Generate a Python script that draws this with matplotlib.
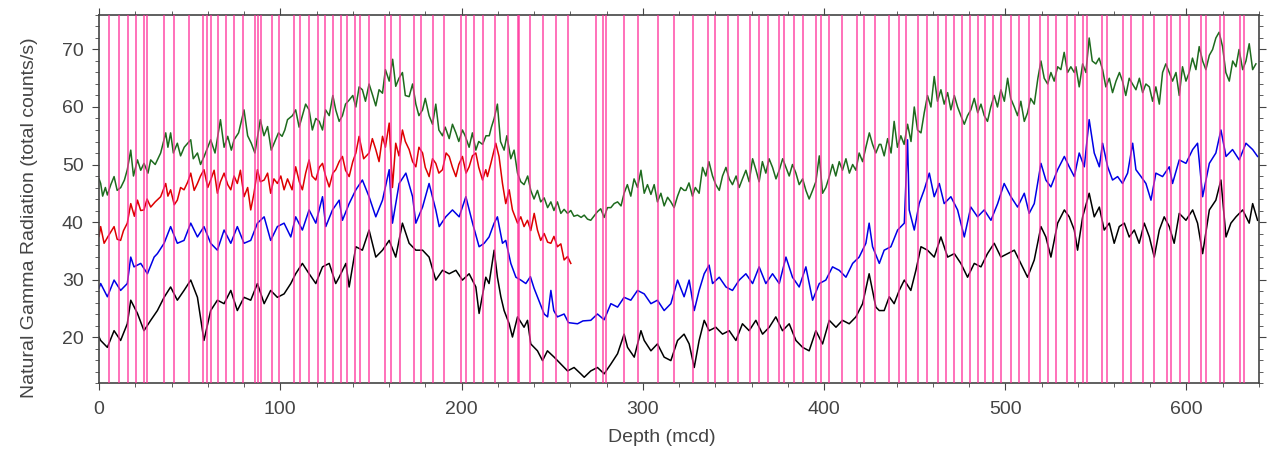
import matplotlib
matplotlib.use("Agg")
import matplotlib.pyplot as plt
from matplotlib.ticker import MultipleLocator

plt.rcParams['font.family'] = ['Liberation Sans', 'DejaVu Sans']

# Depth (mcd) and natural gamma radiation (total counts/s)
green_depth = [0.0, 0.9, 2.0, 3.5, 4.6, 6.5, 8.3, 10, 12, 14, 15.6, 17.5, 19, 21.2, 23, 24.8, 27, 28.5, 31, 34,
               36.8, 38, 39.5, 41, 43.2, 45, 47, 50.6, 52, 54.3, 56, 58, 60, 61.6, 64, 67, 69, 71, 73, 74.5,
               77, 80, 82, 84, 86, 89, 91, 93, 95, 96.6, 99, 101, 102.5, 104, 106.7, 108.5, 110.4, 112.2, 114, 115.9,
               117.7, 119.6, 121.5, 123.3, 125, 127, 129, 130.6, 132.5, 134.3, 136, 138, 140, 141.7, 143.5, 145.3, 147, 149, 151, 152.7,
               154.5, 156.4, 158, 160.1, 162, 163.7, 165.5, 167.4, 169, 171.1, 173, 174.8, 176.5, 178.5, 180, 182.1, 184, 185.8, 187.5, 189.5,
               191, 193.2, 195, 196.9, 198.5, 200.5, 202, 204.2, 206, 207.9, 209.5, 211.6, 213.5, 215.3, 216.5, 218, 219.8, 221.5, 223.5, 225,
               227.2, 229, 230.9, 232.7, 234.5, 236.5, 238.2, 240, 241.9, 243.7, 245.6, 247.5, 249.3, 251, 252.9, 254.8, 256.6, 258.5, 260.3, 262,
               264, 266, 267.7, 269.5, 271.3, 273, 275, 276.8, 278.7, 280.5, 282.4, 284.2, 286.1, 288, 289.7, 291.5, 293.4, 295.2, 297.1, 299,
               300.8, 302.6, 304.5, 306.3, 308.1, 310, 311.8, 313.7, 315.5, 317.3, 319.2, 321, 322.8, 323.8, 325.5, 327.4, 329, 331.1, 333, 334.8,
               336.5, 338.5, 340.3, 342.2, 344, 345.9, 347.7, 349.5, 351.5, 353.2, 355, 356.9, 358.7, 360.6, 362.5, 364.2, 366, 367.9, 369.7, 371.6,
               373.5, 375.3, 377.2, 379, 380.8, 382.6, 384.5, 386.3, 388.2, 390, 391.8, 393.7, 395.5, 397.4, 399.2, 401, 403, 404.7, 406.5, 408.4,
               410.2, 412.1, 414, 415.8, 417.6, 419.4, 421.3, 423.1, 425, 426.8, 428.6, 430.5, 431.4, 433.2, 435.1, 437, 438.7, 440.5, 442.4, 444.2,
               446.1, 448, 449.8, 451.6, 453.5, 455.3, 457.1, 459, 460.8, 462.6, 464.5, 466.3, 468.2, 470, 471.9, 473.7, 475.5, 477.4, 479.2, 481,
               482.9, 484.8, 486.6, 488.4, 490.2, 492, 493.9, 495.7, 497.6, 499.5, 501.3, 503, 505, 506.8, 508.6, 510.5, 512.3, 514, 516, 518,
               519.7, 521.5, 523.4, 525.2, 527, 528.9, 530.7, 532.5, 534.4, 536.2, 538.1, 539, 540.8, 542.7, 544.5, 546.3, 548, 550, 551.8, 553.7,
               555.5, 557.4, 559.2, 561.1, 563, 564.7, 566.5, 568.4, 570.2, 572.1, 574, 575.8, 577.6, 579.5, 581.3, 583.1, 585, 586.8, 588.6, 590.5,
               592.3, 594.2, 596, 597.8, 599.7, 601.5, 603.3, 605.2, 607, 608.9, 610.7, 612.6, 614.4, 616.2, 618, 619.9, 621.7, 623.6, 625.5, 627.3,
               629, 631, 632.8, 634.6, 636.5, 638.3]
green_gr = [47.5, 46.7, 44.5, 46, 44.7, 46.5, 47.9, 45.5, 46, 47.3, 49.1, 52.5, 48, 50.8, 49, 50.2, 48.5, 50.8, 50, 52,
            55.5, 53, 55.5, 52, 53.7, 51.5, 53, 54.3, 51, 52, 50, 51.4, 53, 54.3, 52, 57.8, 53, 54.9, 52.5, 54.3,
            55.5, 59.5, 55, 53.7, 52, 57.8, 55, 56.6, 52.5, 53.7, 55.5, 54.9, 56, 57.8, 58.5, 59.5, 56.5, 58.5, 60.5, 59.5,
            56, 58.0, 57.5, 56.0, 59.5, 58.5, 62, 59.5, 57.5, 58.5, 60.5, 61.2, 62, 60.0, 63.5, 63.0, 61, 64.0, 62, 60.2,
            63, 62.4, 66.5, 64.5, 68.3, 63.6, 65, 66.0, 62, 61.8, 64, 60.5, 58.5, 59.5, 61.5, 58.5, 57, 60.5, 56, 55.0,
            56.5, 54.5, 57, 55.5, 54, 56.0, 55, 53, 55.5, 52.5, 54, 53.5, 55, 55, 56.5, 58, 60.5, 54, 52.5, 55,
            51, 52.5, 48.5, 47, 46.5, 48, 45.5, 44, 45.5, 43.5, 44.2, 42.5, 43.5, 42, 43.5, 41.5, 42.2, 41.5, 42, 41,
            41.2, 40.8, 41.2, 40.5, 40.3, 41, 41.8, 42.3, 40.8, 42.5, 42.5, 43.2, 43.5, 42.8, 45, 46.5, 44.5, 47.5, 46, 49,
            45, 46.5, 44.8, 46.5, 43.5, 45, 42.8, 44.3, 43.5, 42.5, 44.5, 46, 45.5, 45.5, 46.8, 44.5, 46, 45, 49.5, 48,
            50.5, 48, 46.5, 45.5, 48, 49.5, 47.5, 46.5, 48, 46, 47.5, 49, 47, 51, 49, 47, 50.5, 48.5, 51, 49.5,
            47.5, 49, 51, 49.5, 48, 50, 48.5, 46.5, 47.5, 45.5, 44, 45.5, 47, 51.5, 45, 46, 48, 50, 48, 50.5,
            49, 51, 48.5, 50, 49, 52, 50.5, 53, 55.5, 53.5, 52, 53.5, 53.5, 51.5, 54.5, 52, 57.5, 53, 55, 53.5,
            57, 54, 60, 56, 55.5, 59, 62, 60, 65.3, 61, 63, 60.5, 62.5, 59.5, 62, 60, 58.5, 57, 58.5, 59.5,
            61.5, 59, 60.5, 58.5, 57.5, 60, 62, 60, 63, 61, 65, 61.5, 60, 58.5, 61, 57.5, 59, 61.5, 60.5, 65,
            68, 65, 64, 66, 64.5, 67, 66.5, 69.5, 66, 67, 66, 67, 63.5, 67.5, 66, 72, 68, 67.5, 68.5, 66.5,
            63.5, 65, 62.5, 64.5, 66, 64.5, 62, 65, 64, 63, 65, 62.5, 64, 63.5, 61, 63.5, 60.5, 66, 67.5, 66,
            64.5, 66, 62, 67, 64.5, 66, 68.5, 66.5, 70.5, 68, 66.5, 69, 70, 72, 73, 70.5, 66, 64.5, 68, 67,
            70, 66.5, 68, 71, 66.5, 67.5]

red_depth = [0, 0.9, 2.8, 5, 8.3, 10, 11.9, 13.5, 15.6, 17.5, 19.5, 21.2, 23, 24.8, 26.5, 28.5, 31, 34.0, 36.8, 38,
             39.5, 41.5, 43.2, 45, 46.9, 49, 50.6, 52.5, 54.3, 56, 57.9, 60, 61.6, 63.5, 65.3, 67, 69.0, 71, 72.7, 74.5,
             76.3, 78, 80.0, 82, 83.7, 85.5, 87.4, 89, 91.1, 93, 94.7, 96.5, 98.4, 100.3, 102.1, 104, 106.5, 108.5, 110.5, 112.2,
             114, 115.9, 117.5, 119.6, 121.5, 123.3, 125, 127, 129, 130.6, 132.5, 134.3, 136, 138, 140, 141.7, 143.5, 146, 149, 150.8,
             152.7, 154.5, 156.4, 158, 160.1, 161.9, 163.7, 165.5, 167.4, 169, 171.1, 173, 174.8, 176.5, 178.5, 180, 182.1, 184, 185.8, 187.5,
             189.5, 191.5, 193.2, 195, 196.9, 198.5, 200.5, 202.5, 204.2, 206, 207.9, 209.5, 211.6, 213.4, 214.3, 216.2, 218.9, 220.7, 222.6, 224.4,
             226.3, 228.1, 230.9, 232.7, 234.5, 236.4, 238.2, 240.1, 241.9, 243.7, 245.6, 247.5, 249.3, 251, 252.9, 254.8, 256.6, 258.5, 260.3]
red_gr = [37.5, 39.2, 36.3, 37.5, 39.2, 37, 36.8, 38.5, 39.8, 43.2, 41, 43.8, 42, 42.1, 44, 42.6, 43.5, 44.4, 46.7, 44.5,
          45.6, 43, 43.8, 46, 45.6, 47, 48.5, 45.5, 46.7, 48, 49.1, 46, 47.3, 49, 45.0, 47, 48.5, 46.5, 45.6, 48,
          46.7, 49, 44.4, 46, 42.1, 45, 49.1, 47, 47.3, 48.5, 45.0, 47.5, 46.7, 48, 45.6, 47.5, 45.6, 49.6, 47, 45.6,
          48.5, 50.8, 48, 47.3, 49.5, 50.2, 48, 46.1, 48.5, 49.1, 50.5, 51.4, 49, 47.9, 50.5, 52.0, 54.9, 51, 52.0, 54.5,
          52.6, 50.5, 54.9, 53, 57.2, 46.0, 53.7, 51.5, 56.0, 54, 52.6, 50.5, 49.6, 53, 52.0, 49.5, 47.9, 51, 50.2, 48.5,
          49.1, 52, 51.4, 49.5, 47.9, 50, 51.4, 48.5, 49.6, 51.5, 52.0, 49.5, 47.3, 49.1, 47.9, 50.2, 53.7, 51.4, 46.7, 43.2,
          45.6, 42.1, 39.8, 40.9, 39.2, 40.3, 38.5, 41.5, 38.6, 36.8, 38, 36.5, 36.3, 37.5, 35.7, 36.2, 33.4, 34, 32.8]

blue_depth = [0, 0.9, 4.6, 8.3, 11.9, 15.6, 17.5, 19.3, 23.0, 26.7, 30.4, 32.2, 35.9, 39.5, 43.2, 46.9, 50.6, 54.3, 57.9, 61.6,
              65.3, 69.0, 72.7, 76.3, 80.0, 83.7, 87.4, 91.1, 94.7, 98.4, 102.1, 105.8, 108.5, 112.2, 115.9, 119.6, 123.3, 125.1, 128.8, 132.5,
              134.3, 138, 141.7, 145.3, 149, 152.7, 156.4, 160.1, 161.9, 165.6, 169.3, 173, 174.8, 178.5, 182.1, 185.8, 187.7, 191.3, 195, 198.7,
              202.4, 206.1, 209.7, 212.5, 215.2, 218, 219.8, 222.6, 224.4, 227.2, 230, 232.7, 235.5, 238, 240, 243.7, 245.6, 247.5, 249.3, 250.9,
              252.9, 256.6, 259, 264, 267, 271.3, 275, 278.7, 282.4, 286.1, 289.7, 293.4, 297.1, 300.8, 304.5, 308.1, 311.8, 315.5, 319.2, 322.8,
              325.6, 328.4, 331.1, 333.9, 336.6, 338.5, 342.2, 345.9, 349.5, 353.2, 356.9, 360.6, 364.2, 367.9, 371.6, 375.3, 379, 382.6, 386.3, 390,
              393.7, 397.4, 401, 404.7, 408.4, 412.1, 415.8, 419.4, 423.1, 424.9, 426.8, 430.5, 433.2, 436.9, 440.6, 444.3, 446.1, 447, 449.8, 452.5,
              455.3, 458.1, 460.8, 463.6, 466.3, 470, 473.7, 477.4, 481, 484.7, 488.4, 492.1, 495.8, 499.4, 503.1, 506.8, 510.5, 513.2, 516, 519.7,
              522.4, 525.2, 528.9, 532.6, 535.3, 538.1, 540.8, 543.6, 546.3, 549.1, 551.9, 553.7, 556.5, 559.2, 562, 564.7, 567.5, 570.3, 572.1, 574.9,
              577.6, 580.4, 583.1, 586.8, 590.5, 592.3, 596, 599.7, 603.4, 606.1, 608.9, 612.6, 616.2, 619, 621.8, 625.4, 629.1, 632.8, 636.5, 639.2]
blue_gr = [28.5, 29.3, 27.0, 29.9, 28.1, 29.3, 33.9, 32.2, 32.8, 31.0, 33.9, 34.5, 36.3, 39.2, 36.3, 36.8, 39.8, 37.4, 39.2, 36.3,
           35.1, 38.6, 36.3, 39.2, 36.3, 36.8, 39.8, 40.9, 36.8, 39.2, 39.8, 37.4, 40.9, 38.6, 42.1, 39.8, 44.4, 39.2, 42.1, 43.8,
           40.3, 43.2, 45.6, 47.3, 44.4, 40.9, 43.8, 49.1, 39.8, 46.7, 48.5, 44.4, 39.8, 42.6, 46.7, 42.1, 39.2, 40.9, 42.1, 40.9,
           44.4, 39.8, 35.7, 36.3, 37.4, 39.8, 40.9, 36.3, 36.8, 32.8, 30.4, 29.9, 29.3, 30.5, 28.5, 25.5, 24, 23.5, 28.1, 24.6,
           23.5, 24, 22.5, 22.3, 22.8, 22.9, 24, 23, 25.8, 25.2, 26.9, 26.4, 28.1, 27.5, 25.8, 26.4, 24.6, 25.8, 29.9, 27,
           29.9, 24.6, 28.1, 31.0, 32.5, 29.3, 30.4, 28.7, 28.1, 29.9, 31.0, 29.3, 32.2, 29.3, 31.0, 29.3, 33.9, 30.4, 28.7, 32.2,
           26.4, 29.3, 29.9, 32.2, 31.6, 30.4, 32.8, 33.9, 36.3, 39.8, 35.7, 32.8, 35.1, 35.7, 38.6, 39.8, 54.3, 42.1, 38.6, 43.2,
           45.6, 48.5, 44.4, 46.7, 43.2, 44.4, 42.1, 37.4, 42.6, 40.9, 42.1, 40.3, 43.2, 46.7, 44.4, 42.6, 45.0, 41.5, 43.2, 50.2,
           47.3, 46.1, 49.1, 51.4, 49.6, 47.9, 52.0, 49.6, 57.8, 52.0, 49.6, 53.7, 49.6, 47.3, 47.9, 46.7, 48.5, 53.7, 49.1, 47.9,
           46.7, 43.8, 48.5, 47.9, 49.6, 46.7, 50.8, 50.2, 52.6, 53.7, 44.4, 50.2, 52.0, 56.0, 51.4, 52.6, 50.8, 53.7, 52.6, 51.4]

black_depth = [0, 0.9, 4.6, 8.3, 11.9, 15.6, 17.5, 21.2, 24.8, 28.5, 32.2, 35.9, 39.5, 43.2, 46.9, 50.6, 54.3, 57.9, 61.6, 65.3,
               69.0, 72.7, 76.3, 80.0, 83.7, 87.4, 91.1, 94.7, 98.4, 102.1, 105.8, 108.5, 112.2, 115.9, 119.6, 123.3, 127, 130.6, 132.5, 136.2,
               138, 141.7, 145.3, 149, 152.7, 156.4, 160.1, 163.7, 167.4, 171.1, 174.8, 178.5, 182.1, 185.8, 189.5, 193.2, 196.9, 200.5, 204.2, 207.9,
               209.7, 213.4, 215.2, 218, 219.8, 221.7, 223.5, 226.3, 228.1, 230.9, 234.5, 236.4, 238.2, 241.9, 244.7, 247.4, 251.1, 254.8, 258.5, 262.1,
               265.8, 267.7, 271.3, 275, 278.7, 282.4, 286.1, 289.7, 291.6, 295.3, 299, 300.8, 304.5, 308.1, 311.8, 315.5, 319.2, 322.8, 325.6, 328.4,
               331.1, 333.9, 336.6, 340.3, 344, 347.7, 351.4, 355, 358.7, 362.4, 366.1, 369.8, 373.4, 377.1, 380.8, 384.5, 388.2, 391.8, 395.5, 399.2,
               402.9, 406.6, 410.2, 413.9, 417.6, 421.3, 424.9, 428.6, 430.5, 433.2, 436, 438.7, 441.5, 444.3, 447.9, 450.7, 453.5, 457.1, 460.8, 464.5,
               468.2, 471.9, 475.5, 479.2, 482.9, 486.6, 490.2, 493.9, 497.6, 501.3, 505, 508.6, 512.3, 516, 519.7, 522.4, 525.2, 528.9, 532.6, 535.3,
               538.1, 539.9, 542.7, 546.3, 549.1, 551.9, 554.6, 557.4, 560.1, 562.9, 565.7, 568.4, 571.2, 573.9, 576.7, 579.5, 582.2, 585, 587.7, 590.5,
               593.2, 596, 599.7, 603.4, 606.1, 608.9, 612.6, 616.2, 619, 621.8, 624.5, 627.3, 631, 634.6, 636.5, 639.2]
black_gr = [20.0, 19.4, 18.2, 21.1, 19.4, 22.3, 26.4, 24.1, 21.1, 22.9, 24.6, 26.9, 28.7, 26.4, 28.1, 29.9, 26.9, 19.4, 24.6, 26.4,
            25.8, 28.1, 24.6, 26.9, 26.4, 29.3, 25.8, 28.1, 26.9, 27.5, 29.3, 31.0, 32.8, 31.0, 29.3, 32.2, 32.8, 29.3, 30.4, 32.8,
            28.7, 35.7, 35.1, 38.6, 33.9, 35.1, 36.8, 33.9, 39.8, 36.3, 35.1, 35.1, 33.9, 29.9, 31.6, 31.0, 31.6, 29.9, 31.0, 28.7,
            24.1, 30.4, 29.3, 35.1, 30.4, 27.0, 24.6, 22.3, 20.0, 23.5, 21.7, 22.9, 18.8, 17.6, 15.9, 17.6, 16.5, 15.3, 14.1, 14.7,
            13.6, 13.0, 14.1, 14.7, 13.6, 15.3, 17.1, 20.5, 18.2, 16.5, 21.1, 19.4, 17.6, 18.8, 16.5, 15.9, 19.4, 20.5, 18.8, 14.7,
            19.4, 22.9, 21.1, 21.7, 20.5, 21.1, 19.4, 22.3, 21.1, 22.9, 20.5, 21.7, 23.5, 21.1, 22.3, 19.4, 18.2, 17.6, 21.1, 18.8,
            22.9, 21.7, 22.9, 22.3, 23.5, 25.8, 31.0, 25.2, 24.6, 24.6, 27.0, 25.8, 28.1, 29.9, 28.1, 31.6, 35.7, 35.1, 33.9, 37.4,
            33.9, 34.5, 32.8, 30.4, 32.8, 32.2, 34.5, 36.3, 33.9, 34.5, 35.1, 32.8, 30.4, 33.4, 39.2, 37.4, 33.9, 39.8, 42.1, 40.9,
            38.6, 35.1, 40.9, 45.0, 40.9, 42.6, 38.6, 39.8, 36.3, 39.2, 39.8, 37.4, 38.6, 36.3, 39.8, 37.4, 33.9, 38.6, 40.9, 39.2,
            36.3, 41.5, 40.3, 42.1, 39.8, 34.5, 42.1, 43.8, 47.3, 37.4, 39.8, 40.9, 42.1, 39.8, 43.2, 40.3]

# Depths of the vertical marker lines
marker_depths = [5.7, 10.9, 15.8, 20.4, 24.6, 26.5, 36.0, 41.6, 49.9, 57.6, 59.6, 61.8, 65.9, 70.1, 74.3, 79.3,
                 86.3, 87.9, 89.4, 95.3, 99.5, 107.4, 111.1, 116.1, 120.7, 124.9, 129.3, 133.6, 136.7, 141.3, 144.2,
                 149.2, 157.7, 161.1, 166.1, 174.0, 177.7, 184.5, 190.2, 199.8, 202.2, 207.1, 211.7, 218.2, 225.5,
                 231.1, 231.9, 238.0, 245.2, 252.2, 258.6, 274.3, 278.3, 279.8, 289.6, 297.6, 308.3, 317.5, 327.6,
                 335.9, 340.0, 347.3, 352.5, 358.9, 364.1, 369.0, 374.9, 377.9, 383.2, 388.4, 395.7, 398.5, 402.7,
                 410.0, 418.2, 422.3, 427.9, 435.6, 441.3, 445.0, 451.8, 456.8, 462.8, 467.1, 471.5, 476.3, 480.3,
                 484.9, 488.6, 493.5, 497.8, 503.3, 507.6, 512.9, 519.0, 523.6, 528.2, 534.2, 538.3, 542.9, 545.1,
                 553.5, 556.3, 564.9, 569.5, 576.0, 582.1, 589.2, 591.2, 596.6, 601.2, 608.2, 610.6, 618.7, 620.7,
                 629.7, 631.7]

fig = plt.figure(figsize=(12.68, 4.53), dpi=100)
ax = fig.add_axes([0.0781, 0.1545, 0.9148, 0.8124])

ax.plot(green_depth, green_gr, color='#1e6b1e', lw=1.1, zorder=2)
ax.plot(red_depth, red_gr, color='#dd0000', lw=1.1, zorder=2)
ax.plot(blue_depth, blue_gr, color='#0000e6', lw=1.1, zorder=2)
ax.plot(black_depth, black_gr, color='black', lw=1.1, zorder=2)

for d in marker_depths:
    ax.axvline(d, color='#ff2f9a', lw=1.2, alpha=0.8, zorder=3)

ax.set_xlim(0, 640)
ax.set_ylim(12, 76)
ax.xaxis.set_major_locator(MultipleLocator(100))
ax.xaxis.set_minor_locator(MultipleLocator(20))
ax.yaxis.set_major_locator(MultipleLocator(10))
ax.yaxis.set_minor_locator(MultipleLocator(2))
ax.tick_params(which='both', direction='out', top=True, right=True, labelsize=14, colors='#444444')
ax.tick_params(which='major', length=5)
ax.tick_params(which='minor', length=3)
ax.tick_params(axis='x', which='major', pad=8)
ax.tick_params(axis='y', which='major', pad=6)
for s in ax.spines.values():
    s.set_color('#444444')
    s.set_linewidth(1.2)

ax.set_xlabel('Depth (mcd)', fontsize=14, color='#444444')
ax.set_ylabel('Natural Gamma Radiation (total counts/s)', fontsize=14, color='#444444')
ax.xaxis.set_label_coords(0.485, -0.125)
ax.yaxis.set_label_coords(-0.053, 0.45)

fig.savefig('out.png', dpi=100)
